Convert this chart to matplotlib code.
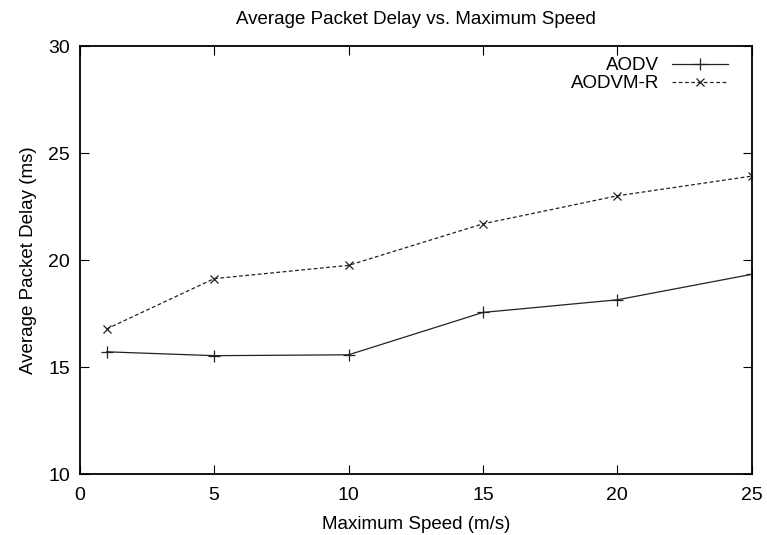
import matplotlib.pyplot as plt

plt.rcParams['font.family'] = ['Liberation Sans', 'DejaVu Sans']

speed = [1, 5, 10, 15, 20, 25]
aodv = [15.71, 15.53, 15.57, 17.55, 18.14, 19.33]
aodvm_r = [16.78, 19.13, 19.75, 21.69, 23.0, 23.92]

fig = plt.figure(figsize=(7.67, 5.35), dpi=100)
ax = fig.add_axes([0.104, 0.114, 0.876, 0.800])

ax.plot(speed, aodv, color='#222222', linewidth=0.9, marker='+', markersize=8,
        markeredgewidth=0.9, label='AODV')
ax.plot(speed, aodvm_r, color='#222222', linewidth=0.9, linestyle=(0, (3, 2)), marker='x',
        markersize=6, markeredgewidth=0.9, label='AODVM-R')

ax.set_xlim(0, 25)
ax.set_ylim(10, 30)
ax.set_xticks([0, 5, 10, 15, 20, 25])
ax.set_yticks([10, 15, 20, 25, 30])
ax.tick_params(direction='in', length=6.5, width=0.8, top=True, right=True, labelsize=14, pad=7)
ax.tick_params(axis='x', pad=9)
for s in ax.spines.values():
    s.set_linewidth(1.3)

ax.set_xlabel('Maximum Speed (m/s)', fontsize=13.5, labelpad=9)
ax.set_ylabel('Average Packet Delay (ms)', fontsize=13.5, labelpad=8)
ax.set_title('Average Packet Delay vs. Maximum Speed', fontsize=13.5, pad=16)

ax.legend(loc='upper right', frameon=False, markerfirst=False, fontsize=13.5,
          handlelength=3.0, handletextpad=0.7, labelspacing=0.05,
          borderaxespad=0.3, borderpad=0.3, bbox_to_anchor=(0.982, 1.0))

fig.savefig('out.png', dpi=100)
